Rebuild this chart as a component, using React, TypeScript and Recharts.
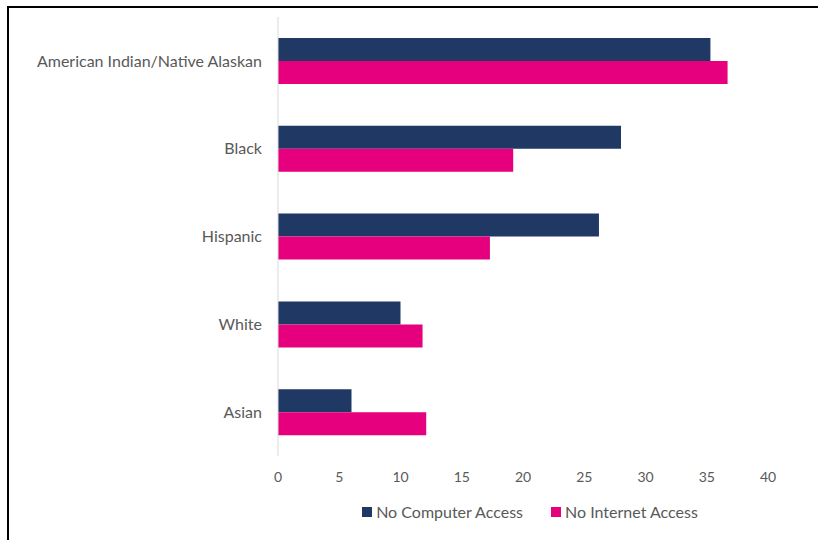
import { BarChart, Bar, XAxis, YAxis, Legend } from 'recharts';

const groups = ['American Indian/Native Alaskan', 'Black', 'Hispanic', 'White', 'Asian'];
const noComputer = [35.3, 28.0, 26.2, 10.0, 6.0];
const noInternet = [36.7, 19.2, 17.3, 11.8, 12.1];
const xTicks = [0, 5, 10, 15, 20, 25, 30, 35, 40];

const rows = groups.map((g, i) => ({
  group: g,
  computer: noComputer[i],
  internet: noInternet[i],
}));

const NAVY = '#1F3864';
const PINK = '#E6007E';
const GRAY = '#595959';
const FONT = 'Lato, "Open Sans", sans-serif';

const LegendBox = ({ payload }: any) => (
  <div style={{ display: 'flex', justifyContent: 'center', gap: 28, paddingLeft: 292, paddingTop: 2, fontFamily: FONT, fontSize: 16, color: GRAY }}>
    {(payload || []).map((p: any) => (
      <div key={p.value} style={{ display: 'flex', alignItems: 'center', gap: 4 }}>
        <span style={{ width: 10, height: 10, background: p.color, display: 'inline-block' }} />
        <span>{p.value}</span>
      </div>
    ))}
  </div>
);

export default function App() {
  return (
    <div style={{ position: 'absolute', left: 0, top: 0, width: 818, height: 540, background: '#fff' }}>
      <div style={{ position: 'absolute', left: 7, top: 6, right: 0, bottom: 0, borderTop: '2px solid #000', borderLeft: '2px solid #000' }} />
      <BarChart
        width={818}
        height={540}
        data={rows}
        layout="vertical"
        margin={{ top: 17, right: 50, left: 0, bottom: 20 }}
        barGap={0}
        barSize={23}
        style={{ position: 'absolute', left: 0, top: 0 }}
      >
        <XAxis
          type="number"
          domain={[0, 40]}
          ticks={xTicks}
          axisLine={false}
          tickLine={false}
          tickMargin={10}
          height={44}
          tick={{ fill: GRAY, fontSize: 14, fontFamily: FONT }}
        />
        <YAxis
          type="category"
          dataKey="group"
          width={278}
          axisLine={{ stroke: '#D9D9D9' }}
          tickLine={false}
          tickMargin={10}
          tick={{ fill: GRAY, fontSize: 16, fontFamily: FONT }}
        />
        <Legend verticalAlign="bottom" height={20} content={<LegendBox />} />
        <Bar dataKey="computer" name="No Computer Access" fill={NAVY} isAnimationActive={false} />
        <Bar dataKey="internet" name="No Internet Access" fill={PINK} isAnimationActive={false} />
      </BarChart>
    </div>
  );
}
